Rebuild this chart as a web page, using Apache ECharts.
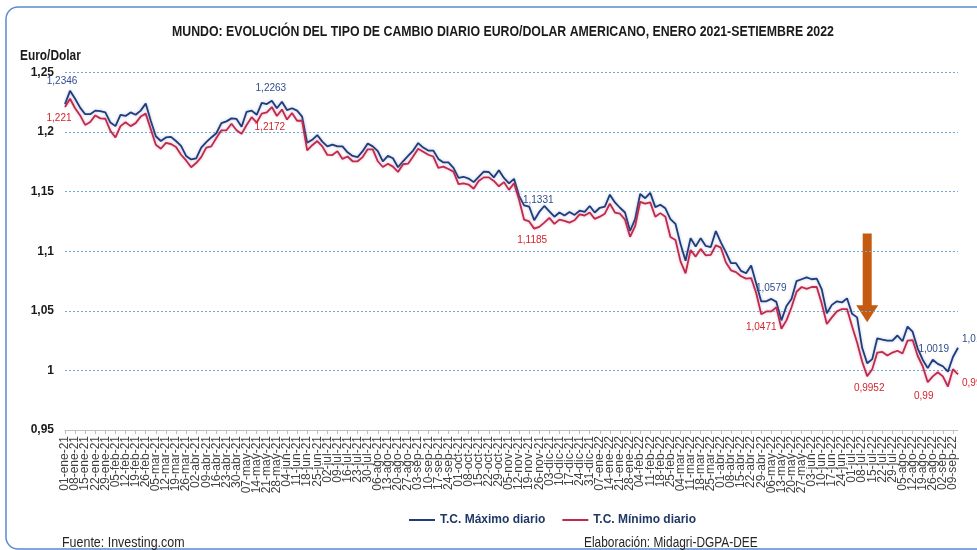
<!DOCTYPE html>
<html><head><meta charset="utf-8">
<script src="https://cdn.jsdelivr.net/npm/echarts@6/dist/echarts.min.js"></script>
<style>html,body{margin:0;padding:0;background:#fff}#c{width:977px;height:550px}</style>
</head><body><div id="c"></div>
<script>
// ---- categories: every Friday (labelled) and the following Tuesday ----
const MESES = ['ene','feb','mar','abr','may','jun','jul','ago','sep','oct','nov','dic'];
const PRIMER_VIERNES = Date.UTC(2021, 0, 1);
const SEMANAS = 89;
const DIAS_MUESTRA = [0, 4]; // Friday, Tuesday after
function pad(n){ return (n < 10 ? '0' : '') + n; }
const categorias = [];
for (let k = 0; k < SEMANAS; k++) {
  for (const d of DIAS_MUESTRA) {
    const t = new Date(PRIMER_VIERNES + (7 * k + d) * 86400000);
    categorias.push(pad(t.getUTCDate()) + '-' + MESES[t.getUTCMonth()] + '-' + String(t.getUTCFullYear()).slice(2));
  }
}

// ---- T.C. Máximo diario (pairs: Friday, Tuesday) ----
const maxDiario = [
1.2235,1.2346, 1.2280,1.2205, 1.2150,1.2150, 1.2180,1.2175, 1.2165,1.2080,
1.2050,1.2145, 1.2135,1.2165, 1.2145,1.2180, 1.2240,1.2095, 1.1965,1.1925,
1.1955,1.1960, 1.1925,1.1885, 1.1800,1.1770, 1.1780,1.1870, 1.1915,1.1955,
1.1990,1.2075, 1.2090,1.2115, 1.2110,1.2045, 1.2170,1.2180, 1.2145,1.2245,
1.2235,1.2263, 1.2200,1.2255, 1.2185,1.2200, 1.2180,1.2130, 1.1910,1.1935,
1.1975,1.1920, 1.1880,1.1895, 1.1880,1.1880, 1.1830,1.1800, 1.1790,1.1840,
1.1905,1.1880, 1.1840,1.1755, 1.1800,1.1780, 1.1705,1.1755, 1.1800,1.1845,
1.1908,1.1870, 1.1845,1.1845, 1.1775,1.1745, 1.1745,1.1700, 1.1615,1.1625,
1.1610,1.1580, 1.1625,1.1668, 1.1665,1.1620, 1.1680,1.1615, 1.1570,1.1608,
1.1465,1.1385, 1.1375,1.1260, 1.1330,1.1380, 1.1335,1.1290, 1.1325,1.1300,
1.1330,1.1305, 1.1340,1.1330, 1.1380,1.1325, 1.1365,1.1375, 1.1475,1.1410,
1.1365,1.1325, 1.1170,1.1270, 1.1480,1.1445, 1.1490,1.1370, 1.1390,1.1360,
1.1270,1.1230, 1.1060,1.0920, 1.1110,1.1040, 1.1110,1.1045, 1.1035,1.1170,
1.1075,1.0990, 1.0900,1.0900, 1.0835,1.0815, 1.0880,1.0730, 1.0579,1.0580,
1.0600,1.0575, 1.0420,1.0540, 1.0600,1.0750, 1.0765,1.0780, 1.0765,1.0770,
1.0680,1.0480, 1.0550,1.0580, 1.0570,1.0605, 1.0475,1.0445, 1.0190,1.0060,
1.0095,1.0270, 1.0258,1.0250, 1.0250,1.0293, 1.0245,1.0368, 1.0325,1.0185,
1.0090,1.0019, 1.0090,1.0055, 1.0035,0.9990, 1.0113,1.0190
];
// ---- T.C. Mínimo diario ----
const minDiario = [
1.2210,1.2280, 1.2200,1.2140, 1.2060,1.2085, 1.2140,1.2115, 1.2112,1.2010,
1.1955,1.2050, 1.2083,1.2050, 1.2075,1.2130, 1.2155,1.2025, 1.1893,1.1860,
1.1910,1.1900, 1.1875,1.1810, 1.1762,1.1705, 1.1740,1.1790, 1.1870,1.1880,
1.1950,1.2015, 1.2015,1.2070, 1.2015,1.1985, 1.2060,1.2125, 1.2080,1.2155,
1.2165,1.2210, 1.2135,1.2190, 1.2105,1.2160, 1.2095,1.2095, 1.1847,1.1890,
1.1925,1.1880, 1.1808,1.1807, 1.1840,1.1775, 1.1795,1.1755, 1.1755,1.1790,
1.1855,1.1855, 1.1755,1.1707, 1.1735,1.1710, 1.1665,1.1730, 1.1735,1.1795,
1.1860,1.1835, 1.1810,1.1795, 1.1700,1.1710, 1.1690,1.1668, 1.1563,1.1570,
1.1560,1.1525, 1.1590,1.1620, 1.1620,1.1590, 1.1545,1.1580, 1.1515,1.1570,
1.1432,1.1265, 1.1250,1.1190, 1.1205,1.1240, 1.1280,1.1230, 1.1265,1.1255,
1.1240,1.1260, 1.1310,1.1300, 1.1325,1.1272, 1.1290,1.1315, 1.1400,1.1325,
1.1315,1.1265, 1.1121,1.1210, 1.1415,1.1400, 1.1410,1.1290, 1.1320,1.1290,
1.1120,1.1095, 1.0915,1.0815, 1.1010,1.0955, 1.1020,1.0965, 1.0970,1.1050,
1.1030,1.0905, 1.0840,1.0825, 1.0790,1.0770, 1.0775,1.0650, 1.0471,1.0495,
1.0495,1.0530, 1.0350,1.0420, 1.0530,1.0660, 1.0700,1.0685, 1.0700,1.0700,
1.0560,1.0390, 1.0445,1.0495, 1.0515,1.0515, 1.0370,1.0235, 1.0075,0.9952,
1.0010,1.0150, 1.0155,1.0125, 1.0150,1.0165, 1.0142,1.0250, 1.0255,1.0123,
1.0035,0.9901, 0.9950,0.9985, 0.9950,0.9865, 1.0010,0.9966
];

// ---- y axis ticks ----
const Y_MIN = 0.95, Y_MAX = 1.25, Y_PASO = 0.05;

// ---- data labels (series 0 = máximo, 1 = mínimo; idx = category index) ----
const etiquetas = [
  {serie:0, idx:1,   texto:'1,2346'},
  {serie:1, idx:0,   texto:'1,221'},
  {serie:0, idx:41,  texto:'1,2263'},
  {serie:1, idx:41,  texto:'1,2172'},
  {serie:0, idx:94,  texto:'1,1331'},
  {serie:1, idx:93,  texto:'1,1185'},
  {serie:0, idx:138, texto:'1,0579'},
  {serie:1, idx:138, texto:'1,0471'},
  {serie:1, idx:159, texto:'0,9952'},
  {serie:0, idx:171, texto:'1,0019'},
  {serie:1, idx:171, texto:'0,99'},
  {serie:0, idx:177, texto:'1,0187'},
  {serie:1, idx:177, texto:'0,9966'}
];
// label placement relative to the point (style)
const desplaz = [[-8,-10],[-6,11],[-1,-12],[-2,20],[-1,-12],[-2,12],[10,-13],[0,13],[2,12],[6,-19],[-4,14],[4,-9],[4,9]];
const alineacion = ['center','center','center','center','center','center','center','center','center','center','center','left','left'];

// arrow annotation (category index, from value, to value)
const flecha = {idx: 159, desde: 1.115, hasta: 1.0405};

const FONT = "'Liberation Sans',Arial,sans-serif";
const AZUL = '#1f3c7c', ROJO = '#bf2a4e';
const valores = [maxDiario, minDiario];

function markPts(serie){
  const out = [];
  etiquetas.forEach((e, i) => {
    if (e.serie !== serie) return;
    out.push({
      coord: [e.idx, valores[serie][e.idx]],
      symbol: 'circle', symbolSize: 0,
      label: {show: true, position: 'inside', formatter: e.texto, offset: desplaz[i], align: alineacion[i],
        color: serie === 0 ? '#2f4d8c' : '#d3242c', fontSize: 10, fontFamily: FONT}
    });
  });
  return {data: out, animation: false};
}

const chart = echarts.init(document.getElementById('c'));
const fmtY = v => String(+v.toFixed(2)).replace('.', ',');
chart.setOption({
  animation: false,
  backgroundColor: '#fff',
  grid: {left: 65, right: 19, top: 72.5, bottom: 120},
  legend: {
    data: ['T.C. Máximo diario', 'T.C. Mínimo diario'],
    left: 404, top: 509, itemWidth: 26, itemHeight: 2, itemGap: 17, icon: 'rect',
    textStyle: {fontFamily: FONT, fontSize: 12, fontWeight: 'bold', color: '#1f3864'}
  },
  xAxis: {
    type: 'category', data: categorias, boundaryGap: false,
    axisLine: {lineStyle: {color: '#bfbfbf', width: 1}},
    axisTick: {show: true, interval: (i) => i % 2 === 0, length: 4, lineStyle: {color: '#bfbfbf'}},
    axisLabel: {interval: 0, formatter: (v, i) => (i % 2 === 0 ? v : ''),
      rotate: 90, margin: 6, fontSize: 12, color: '#404040', fontFamily: FONT},
    splitLine: {show: false}
  },
  yAxis: {
    type: 'value', min: Y_MIN, max: Y_MAX, interval: Y_PASO,
    axisLine: {show: false}, axisTick: {show: false},
    axisLabel: {formatter: fmtY, margin: 11, fontFamily: FONT, fontSize: 12, fontWeight: 'bold', color: '#1a1a1a'},
    splitLine: {show: true, lineStyle: {color: '#6fa8dc', type: [2, 2], width: 1}}
  },
  series: [
    {name: 'T.C. Máximo diario', type: 'line', data: maxDiario, symbol: 'none', color: AZUL,
     lineStyle: {width: 1.8, color: AZUL, shadowColor: 'rgba(90,120,180,0.45)', shadowBlur: 3}, markPoint: markPts(0)},
    {name: 'T.C. Mínimo diario', type: 'line', data: minDiario, symbol: 'none', color: ROJO,
     lineStyle: {width: 1.8, color: ROJO, shadowColor: 'rgba(200,90,120,0.45)', shadowBlur: 3}, markPoint: markPts(1)}
  ],
  graphic: [
    {type: 'rect', shape: {x: 6, y: 7, width: 1000, height: 542, r: 12}, style: {fill: 'none', stroke: '#5b8bd0', lineWidth: 1.5}, silent: true},
    {type: 'text', x: 172, y: 25, scaleX: 0.88, style: {text: 'MUNDO: EVOLUCIÓN DEL TIPO DE CAMBIO DIARIO EURO/DOLAR AMERICANO, ENERO 2021-SETIEMBRE 2022', font: "bold 14px " + FONT, fill: '#1a1a1a'}},
    {type: 'text', x: 20, y: 49, scaleX: 0.85, style: {text: 'Euro/Dolar', font: "bold 14px " + FONT, fill: '#1a1a1a'}},
    {type: 'text', x: 62, y: 536, scaleX: 0.89, style: {text: 'Fuente: Investing.com', font: "14px " + FONT, fill: '#262626'}},
    {type: 'text', x: 584, y: 536, scaleX: 0.85, style: {text: 'Elaboración: Midagri-DGPA-DEE', font: "14px " + FONT, fill: '#262626'}}
  ]
});

// arrow placed in data coordinates
const pA = chart.convertToPixel({gridIndex: 0}, [flecha.idx, flecha.desde]);
const pB = chart.convertToPixel({gridIndex: 0}, [flecha.idx, flecha.hasta]);
const x = pA[0], y1 = pA[1], y2 = pB[1], hw = 4.5, hh = 11, hl = 17;
chart.setOption({graphic: [{
  id: 'flecha', type: 'polygon', silent: true,
  shape: {points: [[x-hw,y1],[x+hw,y1],[x+hw,y2-hl],[x+hh,y2-hl],[x,y2],[x-hh,y2-hl],[x-hw,y2-hl]]},
  style: {fill: '#c55a11'}
}]});
</script></body></html>
